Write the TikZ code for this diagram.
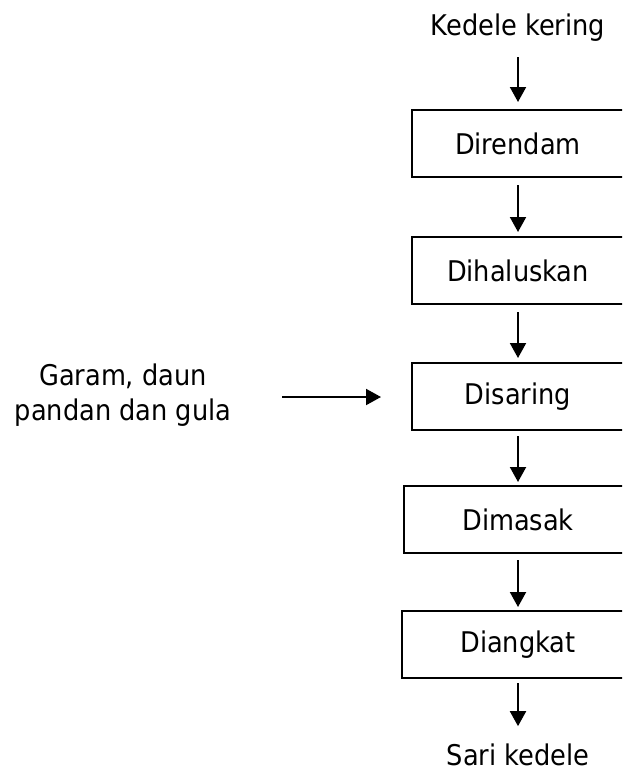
\documentclass[tikz,border=0pt]{standalone}
\usepackage{fontspec}
\setmainfont{DejaVu Sans Condensed}
\usetikzlibrary{arrows.meta}
\tikzset{
  stepbox/.style={draw, line width=2pt, minimum height=67pt, inner sep=0pt, font=\fontsize{28.5}{34}\selectfont},
  lbl/.style={inner sep=0pt, font=\fontsize{28.5}{35}\selectfont},
  arr/.style={line width=2pt, -{Triangle[length=15pt,width=16pt]}}
}
\begin{document}
\begin{tikzpicture}[x=1pt,y=-1pt]
\useasboundingbox (0,0) rectangle (622,771);
\clip (0,0) rectangle (622,771);
\node[lbl, anchor=base] (k) at (518,35) {Kedele kering};
\node[stepbox, minimum width=212pt] (b1) at (518,143.5) {Direndam};
\node[stepbox, minimum width=212pt] (b2) at (518,270.5) {Dihaluskan};
\node[stepbox, minimum width=212pt] (b3) at (518,396.5) {Disaring};
\node[stepbox, minimum width=228pt] (b4) at (518,519.5) {Dimasak};
\node[stepbox, minimum width=232pt] (b5) at (518,644.5) {Diangkat};
\node[lbl, anchor=base] (s) at (518,765) {Sari kedele};
\node[lbl, align=center] (g) at (123,395) {Garam, daun\\pandan dan gula};
\coordinate (h1) at (282,397);
\coordinate (h2) at (381,397);
\draw[arr, shorten <=16pt, shorten >=7pt] (k) -- (b1);
\draw[arr, shorten <=7pt, shorten >=4pt] (b1) -- (b2);
\draw[arr, shorten <=7pt, shorten >=4pt] (b2) -- (b3);
\draw[arr, shorten <=5pt, shorten >=3pt] (b3) -- (b4);
\draw[arr, shorten <=6pt, shorten >=3pt] (b4) -- (b5);
\draw[arr, shorten <=4pt, shorten >=17pt] (b5) -- (s);
\draw[arr] (h1) -- (h2);
\end{tikzpicture}
\end{document}
